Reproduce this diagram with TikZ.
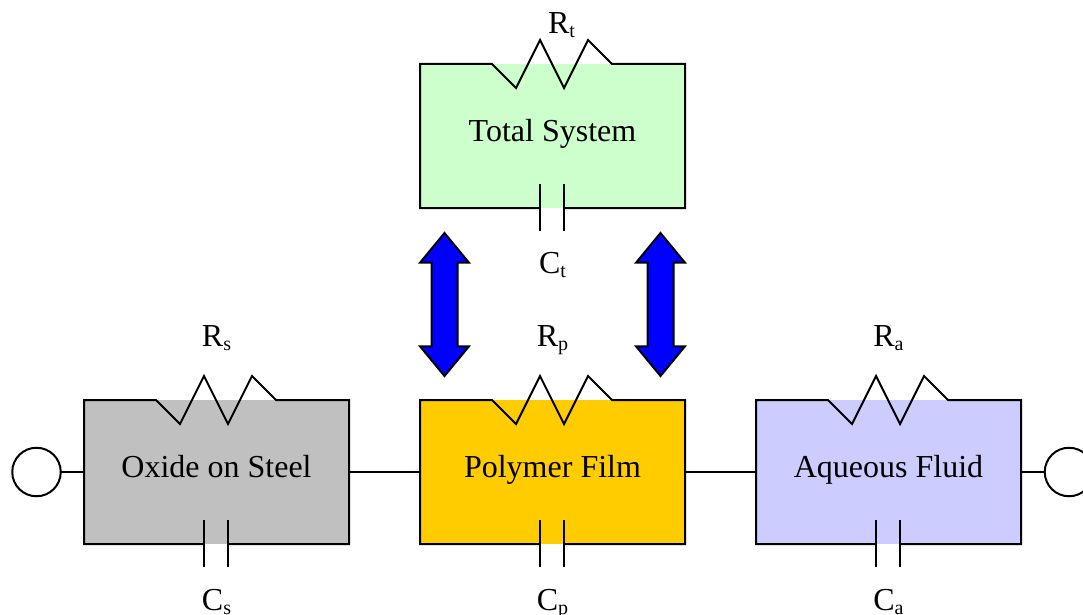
\documentclass[tikz,border=0pt]{standalone}
\usepackage{fontspec}
\setmainfont{Liberation Serif}
\usetikzlibrary{shapes.arrows}
\definecolor{totalfill}{HTML}{CCFFCC}
\definecolor{oxidefill}{HTML}{C0C0C0}
\definecolor{polymerfill}{HTML}{FFCC00}
\definecolor{aqueousfill}{HTML}{CCCCFF}
\newcommand{\elem}[2]{#1\raisebox{-4pt}{\fontsize{20}{20}\selectfont #2}}

\begin{document}
\begin{tikzpicture}[x=1pt,y=-1pt,line width=2pt,
      cell/.style={rectangle,inner sep=0pt,outer sep=0pt,minimum width=265pt,minimum height=144pt,
        text height=17pt,text depth=7pt,font=\fontsize{32}{36}\selectfont},
      elemlabel/.style={anchor=base,inner sep=0pt,font=\fontsize{32}{36}\selectfont},
      terminal/.style={circle,draw,inner sep=0pt,outer sep=0pt,minimum size=48.5pt},
      exchange/.style={double arrow,draw,fill=blue,rotate=90,inner sep=0pt,inner ysep=12pt,
        outer sep=0pt,minimum height=143pt,double arrow head extend=11.5pt,
        double arrow head indent=0pt,double arrow tip angle=79}]
      \clip (0,0) rectangle (1083,615);
      \foreach \name/\xpos/\ypos/\col/\txt/\sub/\shiftr/\upr/\downc in {
        total/552.5/136/totalfill/Total System/t/9/30/65,
        oxide/216.5/472/oxidefill/Oxide on Steel/s/0/54/66,
        polymer/552.5/472/polymerfill/Polymer Film/p/0/54/66,
        aqueous/888.5/472/aqueousfill/Aqueous Fluid/a/0/54/66}{
        \node[cell,fill=\col] (\name) at (\xpos,\ypos) {\txt};
        \draw ([xshift=-12.5]\name.south) -- (\name.south west) -- (\name.north west)
          -- ++(72,0) -- ++(24,24) -- ++(24,-48) -- ++(24,48) -- ++(24,-48) -- ++(24,24)
          -- (\name.north east) -- (\name.south east) -- ([xshift=11.5]\name.south);
        \draw ([shift={(-12.5,-24)}]\name.south) -- ++(0,47);
        \draw ([shift={(11.5,-24)}]\name.south) -- ++(0,47);
        \node[elemlabel] (\name R) at ([shift={(\shiftr,-\upr)}]\name.north) {\elem{R}{\sub}};
        \node[elemlabel] (\name C) at ([shift={(0,\downc)}]\name.south) {\elem{C}{\sub}};
      }
      \node[terminal] (left) at (36.5,472) {};
      \node[terminal] (right) at (1069,472) {};
      \draw (left) -- (oxide);
      \draw (oxide) -- (polymer);
      \draw (polymer) -- (aqueous);
      \draw (aqueous) -- (right);
      \node[exchange] (arrowl) at (444.5,304.5) {};
      \node[exchange] (arrowr) at (660.5,304.5) {};
\end{tikzpicture}
\end{document}
